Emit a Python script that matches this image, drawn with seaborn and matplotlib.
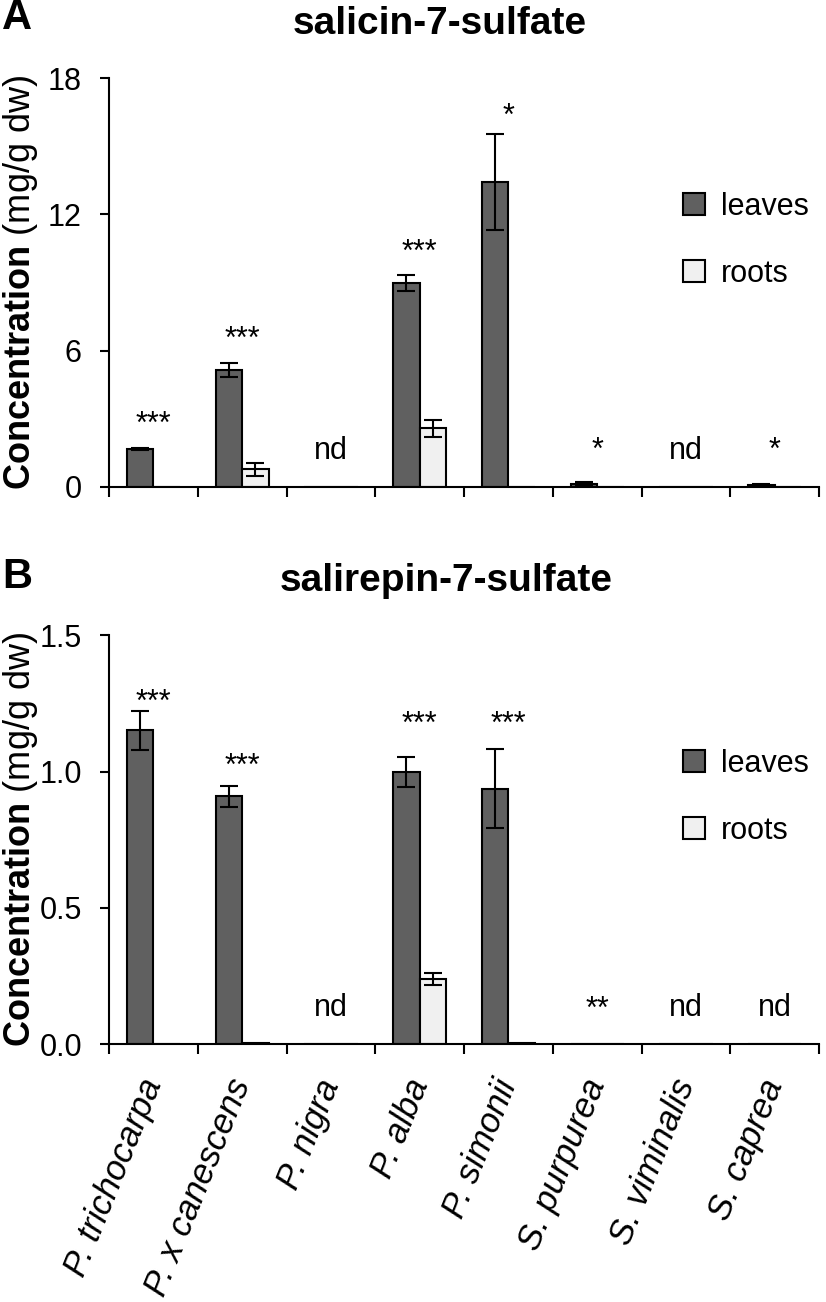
import numpy as np
import pandas as pd
import matplotlib
matplotlib.use('Agg')
import matplotlib.pyplot as plt
import matplotlib.patches as mpatches
import seaborn as sns

species = ['P. trichocarpa', 'P. x canescens', 'P. nigra', 'P. alba',
           'P. simonii', 'S. purpurea', 'S. viminalis', 'S. caprea']
tissues = ['leaves', 'roots']
colors = {'leaves': '#606060', 'roots': '#f0f0f0'}

# A: salicin-7-sulfate (mg/g dw)
a_leaves = [1.66, 5.15, 0.0, 8.97, 13.42, 0.15, 0.0, 0.10]
a_leaves_err = [0.05, 0.30, 0.0, 0.35, 2.10, 0.05, 0.0, 0.03]
a_roots = [0.01, 0.78, 0.0, 2.58, 0.02, 0.02, 0.0, 0.01]
a_roots_err = [0.0, 0.29, 0.0, 0.37, 0.0, 0.0, 0.0, 0.0]
a_sig = ['***', '***', 'nd', '***', '*', '*', 'nd', '*']
a_sig_y = [2.40, 6.14, 1.25, 9.97, 15.95, 1.22, 1.25, 1.22]

# B: salirepin-7-sulfate (mg/g dw)
b_leaves = [1.151, 0.909, 0.0, 0.998, 0.938, 0.002, 0.0, 0.0]
b_leaves_err = [0.07, 0.04, 0.0, 0.055, 0.145, 0.0, 0.0, 0.0]
b_roots = [0.0, 0.003, 0.0, 0.24, 0.003, 0.0, 0.0, 0.0]
b_roots_err = [0.0, 0.0, 0.0, 0.022, 0.0, 0.0, 0.0, 0.0]
b_sig = ['***', '***', 'nd', '***', '***', '**', 'nd', 'nd']
b_sig_y = [1.222, 0.989, 0.104, 1.141, 1.141, 0.098, 0.104, 0.104]

sns.set_theme(style='white')
plt.rcParams['font.family'] = ['Liberation Sans', 'DejaVu Sans']
plt.rcParams['mathtext.fontset'] = 'custom'
plt.rcParams['mathtext.rm'] = 'Liberation Sans'
plt.rcParams['mathtext.bf'] = 'Liberation Sans:bold'
for k in ['text.color', 'axes.labelcolor', 'xtick.color', 'ytick.color']:
    plt.rcParams[k] = 'black'


def panel(ax, leaves, leaves_err, roots, roots_err, sig, sig_y, title, title_x,
          ymax, yticks, ylabels, show_names):
    df = pd.DataFrame({'species': species * 2,
                       'tissue': ['leaves'] * len(species) + ['roots'] * len(species),
                       'value': leaves + roots})
    sns.barplot(data=df, x='species', y='value', hue='tissue', order=species,
                hue_order=tissues, palette=colors, saturation=1, width=0.6,
                edgecolor='black', linewidth=1.5, errorbar=None, legend=False, ax=ax)

    # error bars on top of the bars
    for cont, errs in zip(ax.containers, [leaves_err, roots_err]):
        for bar in cont:
            xc = bar.get_x() + bar.get_width() / 2
            i = int(round(xc))
            if errs[i] > 0:
                ax.errorbar(xc, bar.get_height(), yerr=errs[i], fmt='none',
                            ecolor='black', elinewidth=1.5, capsize=6.5, capthick=1.5)

    for i, (s, y) in enumerate(zip(sig, sig_y)):
        ax.text(i, y, s, ha='center', va='baseline', fontsize=22, color='black')

    ax.set_xlim(-0.5, len(species) - 0.5)
    ax.set_ylim(0, ymax)
    ax.set_yticks(yticks, labels=ylabels)
    ax.set_xticks(np.arange(-0.5, len(species)), labels=[])
    if show_names:
        ax.set_xticks(range(len(species)), labels=species, minor=True)
        plt.setp(ax.get_xticklabels(minor=True), rotation=68, ha='right', va='center',
                 rotation_mode='anchor', fontstyle='italic', fontsize=25)
    ax.tick_params(axis='x', which='major', bottom=True, length=7, width=1.5,
                   direction='out', color='black')
    ax.tick_params(axis='x', which='minor', bottom=True, length=0, pad=26)
    ax.tick_params(axis='y', left=True, length=6.5, width=1.5, direction='out',
                   color='black', pad=13, labelsize=22)
    sns.despine(ax=ax)
    for sp in ['left', 'bottom']:
        ax.spines[sp].set_linewidth(1.5)
        ax.spines[sp].set_color('black')

    ax.set_xlabel('')
    ax.set_ylabel(r'$\mathbf{Concentration}$ (mg/g dw)', fontsize=26)
    ax.yaxis.set_label_coords(-0.097, 0.5)
    ax.set_title(title, fontsize=28, fontweight='bold', x=title_x, pad=32)

    handles = [mpatches.Patch(facecolor=colors[t], edgecolor='black', linewidth=1.5)
               for t in tissues]
    ax.legend(handles, tissues, loc='upper left', bbox_to_anchor=(0.808, 0.722),
              frameon=False, fontsize=22, handlelength=0.72, handleheight=0.72,
              handletextpad=0.52, labelspacing=1.21, borderpad=0, borderaxespad=0)


W, H = 826, 1302
fig = plt.figure(figsize=(W / 100, H / 100), dpi=100)
ax_a = fig.add_axes([109 / W, 1 - 487 / H, 710 / W, 409 / H])
ax_b = fig.add_axes([109 / W, 1 - 1044.3 / H, 710 / W, 409 / H])

panel(ax_a, a_leaves, a_leaves_err, a_roots, a_roots_err, a_sig, a_sig_y,
      'salicin-7-sulfate', 0.466, 18, [0, 6, 12, 18], ['0', '6', '12', '18'], False)
panel(ax_b, b_leaves, b_leaves_err, b_roots, b_roots_err, b_sig, b_sig_y,
      'salirepin-7-sulfate', 0.475, 1.5, [0, 0.5, 1.0, 1.5],
      ['0.0', '0.5', '1.0', '1.5'], True)

fig.text(2 / W, 1 - 29 / H, 'A', fontsize=30, fontweight='bold', va='baseline')
fig.text(2 / W, 1 - 588 / H, 'B', fontsize=30, fontweight='bold', va='baseline')

fig.savefig('out.png', dpi=100, facecolor='white')
